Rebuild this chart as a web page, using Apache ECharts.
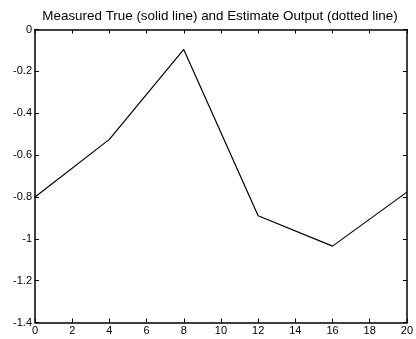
<!DOCTYPE html>
<html><head><meta charset="utf-8">
<script src="https://cdn.jsdelivr.net/npm/echarts@6/dist/echarts.min.js"></script>
<style>html,body{margin:0;padding:0;background:#fff}#c{width:416px;height:339px}</style>
</head><body><div id="c"></div>
<script>
const titleText = 'Measured True (solid line) and Estimate Output (dotted line)';
const xValues = [0, 4, 8, 12, 16, 20];
const measured = [-0.8, -0.525, -0.095, -0.89, -1.035, -0.777];
const xTicks = [0, 2, 4, 6, 8, 10, 12, 14, 16, 18, 20];
const yTicks = [0, -0.2, -0.4, -0.6, -0.8, -1, -1.2, -1.4];

const chart = echarts.init(document.getElementById('c'), null, {renderer: 'canvas'});
const font = 'Liberation Sans, Arial, sans-serif';
const axisLineStyle = {color: '#000', width: 1.5};
const tick = {show: true, inside: true, length: 4, lineStyle: {color: '#000', width: 1}};
function xAxis(pos, labels) {
  return {type: 'value', position: pos, min: 0, max: 20, interval: 2,
    axisLine: {show: true, onZero: false, lineStyle: axisLineStyle},
    axisTick: tick, splitLine: {show: false},
    axisLabel: {show: labels, color: '#000', fontSize: 11, fontFamily: font, margin: 3,
      formatter: v => String(v)}};
}
function yAxis(pos, labels) {
  return {type: 'value', position: pos, min: -1.4, max: 0, interval: 0.2,
    axisLine: {show: true, onZero: false, lineStyle: axisLineStyle},
    axisTick: tick, splitLine: {show: false},
    axisLabel: {show: labels, color: '#000', fontSize: 11, fontFamily: font, margin: 3,
      formatter: v => String(Math.round(v * 10) / 10)}};
}
chart.setOption({
  animation: false,
  backgroundColor: '#fff',
  title: {text: titleText, left: 215, textAlign: 'center', top: 5,
    textStyle: {fontSize: 13.4, fontWeight: 'normal', color: '#000', fontFamily: font}},
  grid: {left: 35, right: 8, top: 29.5, bottom: 16.5, containLabel: false},
  xAxis: [xAxis('bottom', true), xAxis('top', false)],
  yAxis: [yAxis('left', true), yAxis('right', false)],
  series: [{
    type: 'line', xAxisIndex: 0, yAxisIndex: 0,
    data: xValues.map((x, i) => [x, measured[i]]),
    showSymbol: false, symbol: 'none',
    lineStyle: {color: '#000', width: 1.2}
  }]
});
</script></body></html>
